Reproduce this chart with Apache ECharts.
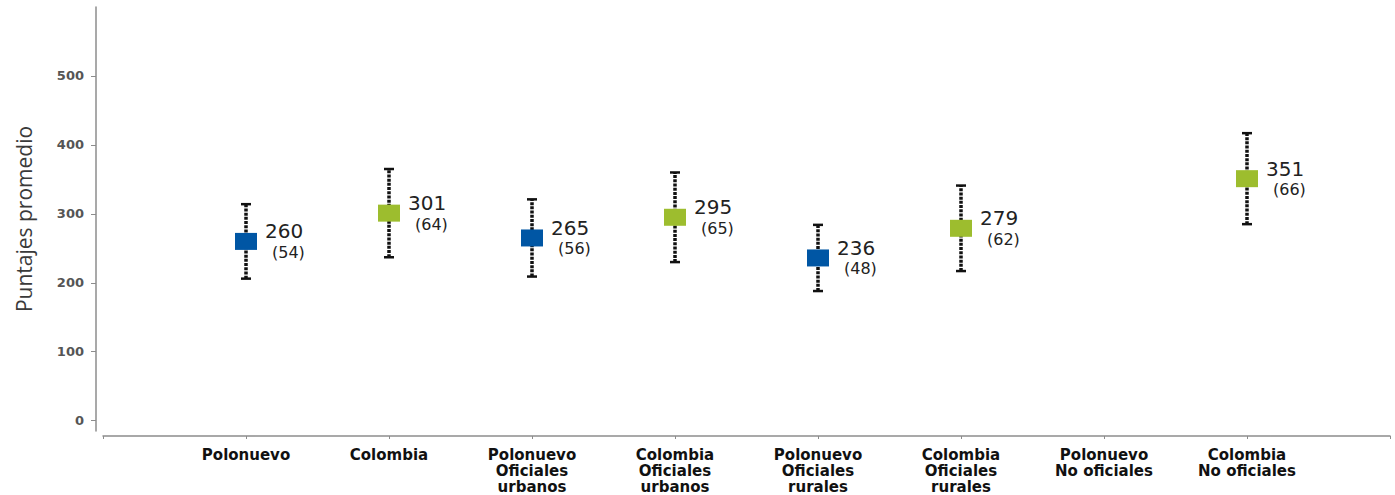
<!DOCTYPE html>
<html>
<head>
<meta charset="utf-8">
<script src="https://cdn.jsdelivr.net/npm/echarts@6/dist/echarts.min.js"></script>
<style>
html,body{margin:0;padding:0;background:#fff;}
#chart{width:1395px;height:495px;}
</style>
</head>
<body>
<div id="chart"></div>
<script>
const categories = [
  'Polonuevo',
  'Colombia',
  'Polonuevo\nOficiales\nurbanos',
  'Colombia\nOficiales\nurbanos',
  'Polonuevo\nOficiales\nrurales',
  'Colombia\nOficiales\nrurales',
  'Polonuevo\nNo oficiales',
  'Colombia\nNo oficiales'
];
const groups = ['Polonuevo','Colombia','Polonuevo','Colombia','Polonuevo','Colombia','Polonuevo','Colombia'];
const means = [260, 301, 265, 295, 236, 279, null, 351];
const sds = [54, 64, 56, 65, 48, 62, null, 66];
const yTicks = [0, 100, 200, 300, 400, 500];
const groupColors = { Polonuevo: '#0056A4', Colombia: '#9DBD2E' };

const pointData = [];
const errData = [];
means.forEach((m, i) => {
  if (m == null) return;
  pointData.push({ value: [i + 1, m, sds[i]], itemStyle: { color: groupColors[groups[i]], opacity: 1 } });
  errData.push([i + 1, m - sds[i], m + sds[i]]);
});

const chart = echarts.init(document.getElementById('chart'), null, { renderer: 'svg' });
chart.setOption({
  animation: false,
  grid: { left: 103, right: 5, top: 7, bottom: 63 },
  xAxis: {
    type: 'value', min: 0, max: 9, interval: 1, offset: 5,
    splitLine: { show: false },
    axisLine: { show: true, onZero: false, lineStyle: { color: '#8c8c8c', width: 1.5 } },
    axisTick: { show: true, length: 3, lineStyle: { color: '#8c8c8c' } },
    axisLabel: {
      margin: 11,
      formatter: v => categories[v - 1] || '',
      fontFamily: 'DejaVu Sans', fontWeight: 'bold', fontSize: 15, lineHeight: 16, color: '#111'
    }
  },
  yAxis: {
    type: 'value', min: -15, max: 600, offset: 7,
    name: 'Puntajes promedio', nameLocation: 'middle', nameGap: 62,
    nameTextStyle: { fontFamily: 'Open Sans', fontSize: 21, color: '#3a3a3a' },
    splitLine: { show: false },
    axisLine: { show: true, onZero: false, lineStyle: { color: '#8c8c8c', width: 1.5 } },
    axisTick: { show: true, length: 5, customValues: yTicks, lineStyle: { color: '#8c8c8c' } },
    axisLabel: {
      customValues: yTicks, margin: 12,
      fontFamily: 'DejaVu Sans', fontWeight: 'bold', fontSize: 13, color: '#555'
    }
  },
  series: [
    {
      type: 'custom',
      data: errData,
      z: 1,
      renderItem: function (params, api) {
        const x = api.value(0);
        const lo = api.coord([x, api.value(1)]);
        const hi = api.coord([x, api.value(2)]);
        const cw = 5;
        return {
          type: 'group',
          children: [
            { type: 'line', shape: { x1: lo[0], y1: lo[1], x2: hi[0], y2: hi[1] },
              style: { stroke: '#111', lineWidth: 3.5, lineDash: [3, 1.2] } },
            { type: 'line', shape: { x1: hi[0] - cw, y1: hi[1], x2: hi[0] + cw, y2: hi[1] },
              style: { stroke: '#111', lineWidth: 2.5 } },
            { type: 'line', shape: { x1: lo[0] - cw, y1: lo[1], x2: lo[0] + cw, y2: lo[1] },
              style: { stroke: '#111', lineWidth: 2.5 } }
          ]
        };
      }
    },
    {
      type: 'scatter',
      z: 3,
      symbol: 'rect',
      symbolSize: [22, 17],
      itemStyle: { opacity: 1 },
      data: pointData,
      label: {
        show: true, position: 'right', distance: 8, align: 'left',
        formatter: p => '{a|' + p.value[1] + '}\n{b|(' + p.value[2] + ')}',
        rich: {
          a: { fontFamily: 'DejaVu Sans', fontSize: 20, color: '#222', lineHeight: 22 },
          b: { fontFamily: 'DejaVu Sans', fontSize: 16, color: '#222', lineHeight: 20, padding: [0, 0, 0, 7] }
        }
      }
    }
  ]
});
</script>
</body>
</html>
